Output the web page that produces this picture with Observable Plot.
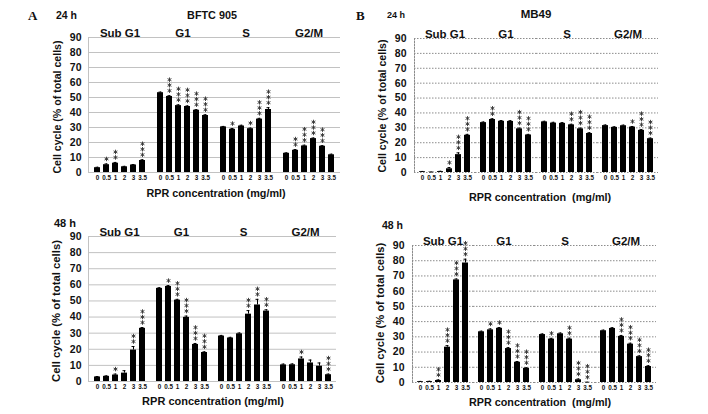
<!DOCTYPE html>
<html><head><meta charset="utf-8">
<script src="https://cdn.jsdelivr.net/npm/d3@7"></script>
<script src="https://cdn.jsdelivr.net/npm/@observablehq/plot@0.6"></script>
<style>
body{margin:0;background:#fff;}
#wrap{position:relative;width:708px;height:414px;overflow:hidden;font-family:Arial,"Liberation Sans",sans-serif;color:#111;}
.t{position:absolute;font-weight:bold;white-space:nowrap;line-height:1;}
.panel{position:absolute;}
.panel svg{overflow:visible;font-family:Arial,"Liberation Sans",sans-serif;}
</style></head><body><div id="wrap"></div><script>
const phases = ["Sub G1", "G1", "S", "G2/M"];
const concentrations = ["0", "0.5", "1", "2", "3", "3.5"];
const yTicks = [0, 10, 20, 30, 40, 50, 60, 70, 80, 90];

// BFTC 905, 24 h
const bftc24Values = [[3.2, 5.2, 6.2, 3.8, 5.0, 8.0], [53.2, 50.7, 44.6, 44.0, 41.5, 38.0], [30.4, 28.8, 31.0, 29.2, 35.6, 42.0], [12.8, 14.8, 17.7, 22.6, 17.5, 11.8]];
const bftc24Err = [[0.3, 0.5, 0.5, 0.3, 0.3, 0.5], [0.4, 0.5, 0.5, 0.4, 0.4, 0.5], [0.3, 0.5, 0.5, 0.4, 0.5, 1.2], [0.3, 0.5, 0.5, 0.4, 0.4, 0.4]];
const bftc24Stars = [[0, 1, 2, 0, 0, 3], [0, 3, 3, 3, 3, 3], [0, 1, 0, 1, 3, 3], [0, 2, 3, 3, 3, 0]];
// MB49, 24 h
const mb24Values = [[0.5, 0.2, 0.6, 2.5, 12.0, 25.0], [33.5, 35.6, 34.4, 34.3, 29.3, 25.2], [34.0, 33.2, 33.0, 32.0, 29.3, 26.2], [31.5, 30.3, 31.4, 30.5, 28.3, 22.7]];
const mb24Err = [[0.2, 0.1, 0.2, 0.8, 1.2, 0.6], [0.4, 0.5, 0.5, 0.5, 0.5, 0.4], [0.4, 0.5, 0.5, 0.4, 0.5, 0.5], [0.4, 0.4, 0.4, 0.4, 0.5, 0.4]];
const mb24Stars = [[0, 0, 0, 1, 3, 3], [0, 2, 0, 0, 3, 3], [0, 0, 0, 2, 3, 3], [0, 0, 0, 1, 3, 3]];
// BFTC 905, 48 h
const bftc48Values = [[2.8, 3.2, 4.0, 5.2, 19.5, 33.0], [57.8, 59.0, 50.5, 39.8, 23.0, 18.0], [28.2, 27.0, 29.6, 41.8, 47.5, 43.7], [10.3, 10.4, 14.0, 11.5, 9.5, 4.2]];
const bftc48Err = [[0.3, 0.3, 0.6, 1.5, 2.2, 0.5], [0.4, 0.5, 0.5, 0.8, 0.6, 0.4], [0.4, 0.4, 0.5, 2.2, 3.5, 0.8], [0.5, 0.5, 1.2, 1.8, 2.0, 0.4]];
const bftc48Stars = [[0, 0, 1, 0, 2, 3], [0, 1, 3, 3, 3, 3], [0, 0, 0, 2, 2, 2], [0, 0, 1, 0, 0, 3]];
// MB49, 48 h
const mb48Values = [[0.5, 0.6, 1.3, 23.2, 67.4, 78.5], [33.3, 34.6, 35.6, 22.3, 13.3, 9.3], [31.5, 28.5, 32.0, 28.5, 1.8, 0.1], [34.0, 35.5, 30.3, 25.2, 17.0, 10.5]];
const mb48Err = [[0.2, 0.2, 0.4, 1.0, 0.6, 2.5], [0.4, 0.6, 0.5, 0.6, 0.5, 0.4], [0.4, 0.5, 0.5, 0.6, 0.5, 0.1], [0.4, 0.5, 0.6, 0.6, 0.5, 0.5]];
const mb48Stars = [[0, 0, 2, 3, 3, 3], [0, 1, 1, 3, 3, 3], [0, 1, 0, 2, 3, 3], [0, 0, 3, 3, 3, 3]];

const wrap = document.getElementById("wrap");

function panel(values, errs, stars, o) {
  const data = [];
  phases.forEach((p, i) => concentrations.forEach((c, j) =>
    data.push({phase: p, conc: c, v: values[i][j], e: errs[i][j], s: stars[i][j]})));
  const grid = o.dotted ? {stroke: "#8c8c8c", strokeDasharray: "1.5,1.5"} : {stroke: "#c2c2c2"};
  const starMarks = [0, 1, 2].map(k => Plot.dot(data.filter(d => d.s > k), {
    fx: "phase", x: "conc", y: d => d.v + d.e, symbol: "asterisk", r: 2.1,
    stroke: "#333", strokeWidth: 0.9, dy: -(5 + 5.5 * k)}));
  const chart = Plot.plot({
    width: o.width, height: o.height,
    marginTop: o.mt, marginLeft: o.ml, marginRight: o.mr, marginBottom: o.mb,
    fx: {domain: phases, paddingInner: 0, paddingOuter: 0, label: null},
    x: {domain: concentrations, paddingInner: 0.38, paddingOuter: 0.5, label: null},
    y: {domain: [0, 90], label: null},
    marks: [
      Plot.ruleY(yTicks, {...grid, strokeWidth: 1}),
      Plot.frame({anchor: "left", facetAnchor: "left", ...grid}),
      Plot.barY(data, {fx: "phase", x: "conc", y: "v", fill: "#000"}),
      Plot.ruleX(data, {fx: "phase", x: "conc", y1: "v", y2: d => d.v + d.e, stroke: "#000", strokeWidth: 1}),
      Plot.tickY(data, {fx: "phase", x: "conc", y: d => d.v + d.e, stroke: "#000", insetLeft: 1.5, insetRight: 1.5}),
      ...starMarks,
      Plot.axisY({ticks: yTicks, tickSize: 0, tickPadding: o.tp, fontSize: 10.5, fontWeight: "bold", label: null}),
      Plot.axisX({tickSize: 0, tickPadding: 3, fontSize: 6.3, fontWeight: "bold", label: null}),
      Plot.axisFx({anchor: "top", tickSize: 0, tickPadding: 1, fontSize: 11.5, fontWeight: "bold", label: null})
    ]
  });
  const div = document.createElement("div");
  div.className = "panel";
  div.style.left = o.left + "px";
  div.style.top = o.top + "px";
  div.appendChild(chart);
  wrap.appendChild(div);
}

function label(text, x, y, size, opts = {}) {
  const d = document.createElement("div");
  d.className = "t";
  d.textContent = text;
  d.style.left = x + "px";
  d.style.top = y + "px";
  d.style.fontSize = size + "px";
  if (opts.serif) d.style.fontFamily = '"Times New Roman","Liberation Serif",serif';
  const anchor = opts.anchor || "middle";
  let tr = anchor === "middle" ? "translate(-50%,-50%)" : "translate(0,-50%)";
  if (opts.rotate) tr += " rotate(-90deg)";
  d.style.transform = tr;
  if (opts.pre) d.style.whiteSpace = "pre";
  wrap.appendChild(d);
}

panel(bftc24Values, bftc24Err, bftc24Stars, {left: 0, top: 0, width: 350, height: 186, mt: 37, ml: 87, mr: 10, mb: 14, tp: 7});
panel(mb24Values, mb24Err, mb24Stars, {left: 354, top: 0, width: 354, height: 186, mt: 38, ml: 58, mr: 49, mb: 14, tp: 8, dotted: true});
panel(bftc48Values, bftc48Err, bftc48Stars, {left: 0, top: 207, width: 350, height: 188, mt: 29, ml: 87, mr: 13, mb: 14, tp: 7});
panel(mb48Values, mb48Err, mb48Stars, {left: 354, top: 207, width: 354, height: 189, mt: 38, ml: 57, mr: 51, mb: 14, tp: 8, dotted: true});

label("A", 28, 15, 13, {serif: true, anchor: "start"});
label("24 h", 56, 15, 10.5, {anchor: "start"});
label("BFTC 905", 212, 15, 10.8);
label("B", 356, 15, 13, {serif: true, anchor: "start"});
label("24 h", 387, 15, 9, {anchor: "start"});
label("MB49", 536, 15, 11.5);
label("48 h", 54, 223, 11, {anchor: "start"});
label("48 h", 382, 225, 10.5, {anchor: "start"});

label("Cell cycle (% of total cells)", 57, 107, 10.6, {rotate: true});
label("Cell cycle (% of total cells)", 382, 106, 10.6, {rotate: true});
label("Cell cycle (% of total cells)", 57, 311, 11.3, {rotate: true});
label("Cell cycle (% of total cells)", 381, 313, 11.2, {rotate: true});

label("RPR concentration (mg/ml)", 216, 193, 10.8);
label("RPR concentration  (mg/ml)", 540, 197, 10.8, {pre: true});
label("RPR concentration (mg/ml)", 213, 401, 11);
label("RPR concentration  (mg/ml)", 540, 402, 10.8, {pre: true});
</script></body></html>
